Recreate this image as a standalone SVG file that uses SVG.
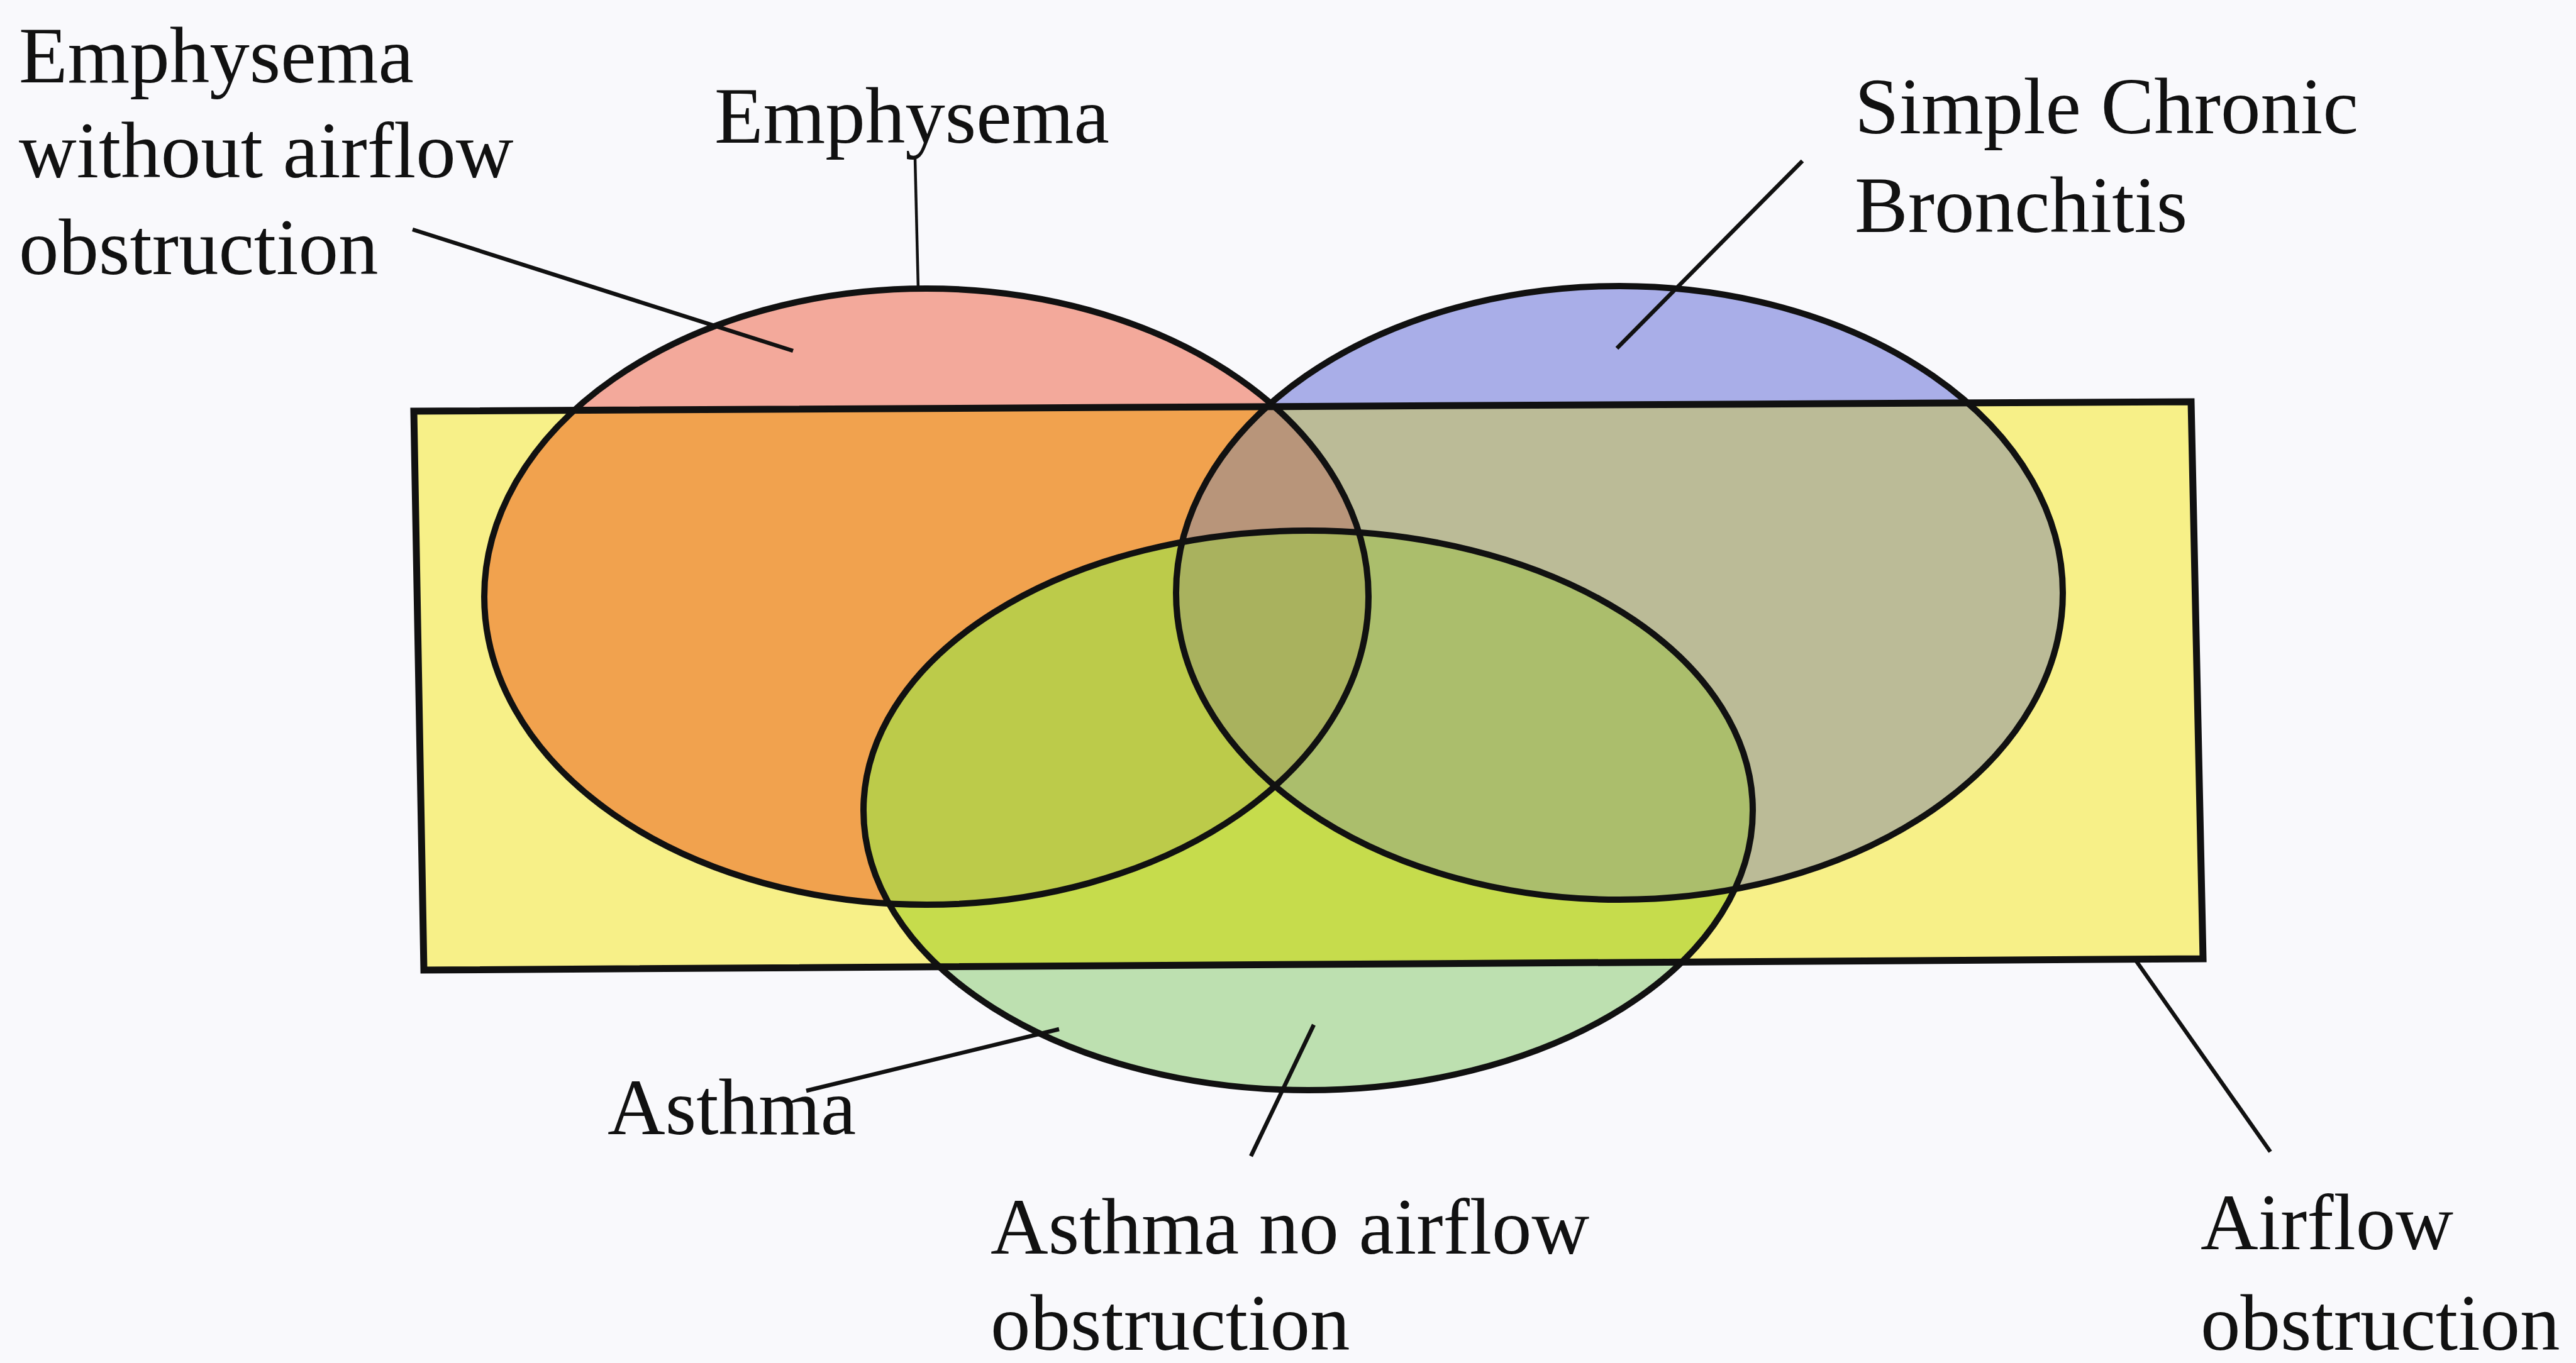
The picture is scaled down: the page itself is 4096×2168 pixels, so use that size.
<svg xmlns="http://www.w3.org/2000/svg" xmlns:xlink="http://www.w3.org/1999/xlink" width="4096" height="2168" viewBox="0 0 4096 2168">
<style>
.lbl{font-family:"Liberation Serif","Times New Roman",serif;font-size:127px;fill:#111}
.outline{fill:none;stroke:#111;stroke-width:10}
.rect-outline{fill:none;stroke:#111;stroke-width:11}
.leader{stroke:#111;stroke-width:6.5;fill:none}
</style>
<defs>
<ellipse id="e-emph" cx="1473" cy="949" rx="703" ry="490"/>
<ellipse id="e-bron" cx="2575" cy="943" rx="705" ry="488"/>
<ellipse id="e-asth" cx="2080" cy="1289" rx="707" ry="445"/>
<polygon id="p-air" points="658,654 3484,639 3503,1525 674,1543"/>
<clipPath id="c-air"><use xlink:href="#p-air"/></clipPath>
<clipPath id="c-emph"><use xlink:href="#e-emph"/></clipPath>
<clipPath id="c-bron"><use xlink:href="#e-bron"/></clipPath>
</defs>
<rect width="4096" height="2168" fill="#f9f9fc"/>
<g id="airflow-obstruction">
<use xlink:href="#p-air" fill="#f7f088"/>
<text class="lbl" x="3499" y="1987">Airflow</text>
<text class="lbl" x="3499" y="2147">obstruction</text>
</g>
<g id="emphysema">
<use xlink:href="#e-emph" fill="#f3a99b"/>
<g clip-path="url(#c-air)"><use xlink:href="#e-emph" fill="#f1a24e"/></g>
<text class="lbl" x="1136" y="227">Emphysema</text>
</g>
<g id="chronic-bronchitis">
<use xlink:href="#e-bron" fill="#a9aee8"/>
<g clip-path="url(#c-air)"><use xlink:href="#e-bron" fill="#bbbb97"/>
<g clip-path="url(#c-emph)"><use xlink:href="#e-bron" fill="#b8957a"/></g></g>
<text class="lbl" x="2949" y="212">Simple Chronic</text>
<text class="lbl" x="2949" y="369">Bronchitis</text>
</g>
<g id="asthma">
<use xlink:href="#e-asth" fill="#bde0b0"/>
<g clip-path="url(#c-air)"><use xlink:href="#e-asth" fill="#c6dc4c"/>
<g clip-path="url(#c-emph)"><use xlink:href="#e-asth" fill="#bccb4a"/></g>
<g clip-path="url(#c-bron)"><use xlink:href="#e-asth" fill="#abbe6c"/>
<g clip-path="url(#c-emph)"><use xlink:href="#e-asth" fill="#a9b25e"/></g></g></g>
<text class="lbl" x="966" y="1804">Asthma</text>
</g>
<g id="outlines">
<use xlink:href="#e-emph" class="outline"/>
<use xlink:href="#e-bron" class="outline"/>
<use xlink:href="#e-asth" class="outline"/>
<use xlink:href="#p-air" class="rect-outline"/>
</g>
<g id="emphysema-no-obstruction">
<text class="lbl" x="30" y="131">Emphysema</text>
<text class="lbl" x="30" y="282">without airflow</text>
<text class="lbl" x="30" y="436">obstruction</text>
</g>
<g id="asthma-no-obstruction">
<text class="lbl" x="1575" y="1994">Asthma no airflow</text>
<text class="lbl" x="1575" y="2147">obstruction</text>
</g>
<g id="connectors">
<line class="leader" x1="656" y1="365" x2="1261" y2="558"/>
<line class="leader" x1="1455" y1="252" x2="1460" y2="460" style="stroke-width:4.5"/>
<line class="leader" x1="2866" y1="256" x2="2571" y2="554"/>
<line class="leader" x1="1282" y1="1735" x2="1684" y2="1637"/>
<line class="leader" x1="1989" y1="1839" x2="2089" y2="1630"/>
<line class="leader" x1="3397" y1="1529" x2="3610" y2="1832"/>
</g>
</svg>
